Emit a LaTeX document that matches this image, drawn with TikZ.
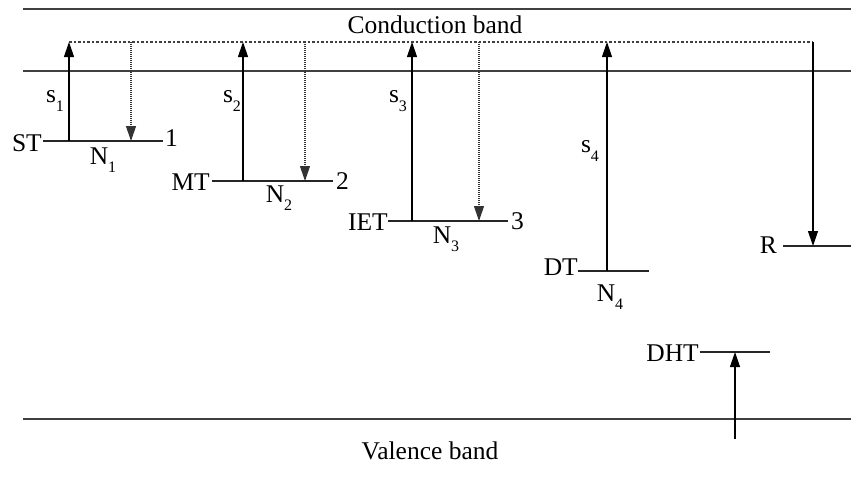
\documentclass[tikz,border=0pt]{standalone}
\usepackage{fontspec}
\setmainfont{Liberation Serif}
\usetikzlibrary{arrows.meta}
\newcommand\lowsub[1]{\raisebox{-0.32em}{\fontsize{16}{16}\selectfont #1}}
\tikzset{
  band/.style={line width=1.4pt, draw=black!75},
  level/.style={line width=1.3pt, draw=black!85},
  up/.style={line width=1.2pt, -{Triangle[length=15pt,width=10pt]}},
  dotdown/.style={line width=1.1pt, draw=black!80, dash pattern=on 1pt off 1pt, -{Triangle[length=15pt,width=10pt]}},
  soliddown/.style={line width=1.2pt, -{Triangle[length=15pt,width=10pt]}},
  dotline/.style={line width=1.1pt, draw=black!75, dash pattern=on 2.5pt off 2pt},
  lab/.style={inner sep=0pt, font=\fontsize{25.5}{30}\selectfont},
}
\begin{document}
\begin{tikzpicture}[x=1pt,y=-1pt]
\useasboundingbox (0,0) rectangle (851,480);
% bands
\coordinate (cbL) at (23,9); \coordinate (cbR) at (851,9);
\coordinate (cb2L) at (23,71); \coordinate (cb2R) at (851,71);
\coordinate (vbL) at (23,419); \coordinate (vbR) at (851,419);
\draw[band] (cbL) -- (cbR);
\draw[band] (cb2L) -- (cb2R);
\draw[band] (vbL) -- (vbR);
\node[lab] (cbt) at (435,25) {Conduction band};
\node[lab] (vbt) at (430,451) {Valence band};
% dotted top line
\coordinate (dL) at (69,42); \coordinate (dR) at (813,42);
\draw[dotline] (dL) -- (dR);
% ST level
\coordinate (st1) at (43,141); \coordinate (st2) at (163,141);
\draw[level] (st1) -- (st2);
\node[lab, anchor=east] (stl) at (42,143) {ST};
\node[lab, anchor=west] (one) at (165,138) {1};
\coordinate (a1b) at (69,141); \coordinate (a1t) at (69,42);
\draw[up] (a1b) -- (a1t);
\coordinate (d1t) at (131,42); \coordinate (d1b) at (131,141);
\draw[dotdown] (d1t) -- (d1b);
\node[lab] (s1) at (55,101) {s\lowsub{1}};
\node[lab] (n1) at (103,160) {N\lowsub{1}};
% MT level
\coordinate (mt1) at (212,181); \coordinate (mt2) at (333,181);
\draw[level] (mt1) -- (mt2);
\node[lab, anchor=east] (mtl) at (210,182) {MT};
\node[lab, anchor=west] (two) at (336,181) {2};
\coordinate (a2b) at (243,181); \coordinate (a2t) at (243,42);
\draw[up] (a2b) -- (a2t);
\coordinate (d2t) at (305,42); \coordinate (d2b) at (305,181);
\draw[dotdown] (d2t) -- (d2b);
\node[lab] (s2) at (232,101) {s\lowsub{2}};
\node[lab] (n2) at (279,198) {N\lowsub{2}};
% IET level
\coordinate (ie1) at (388,221); \coordinate (ie2) at (508,221);
\draw[level] (ie1) -- (ie2);
\node[lab, anchor=east] (iel) at (388,222) {IET};
\node[lab, anchor=west] (three) at (511,221) {3};
\coordinate (a3b) at (412,221); \coordinate (a3t) at (412,42);
\draw[up] (a3b) -- (a3t);
\coordinate (d3t) at (479,42); \coordinate (d3b) at (479,221);
\draw[dotdown] (d3t) -- (d3b);
\node[lab] (s3) at (398,101) {s\lowsub{3}};
\node[lab] (n3) at (446,239) {N\lowsub{3}};
% DT level
\coordinate (dt1) at (578,271); \coordinate (dt2) at (649,271);
\draw[level] (dt1) -- (dt2);
\node[lab, anchor=east] (dtl) at (578,267) {DT};
\coordinate (a4b) at (607,271); \coordinate (a4t) at (607,42);
\draw[up] (a4b) -- (a4t);
\node[lab] (s4) at (590,151) {s\lowsub{4}};
\node[lab] (n4) at (610,297) {N\lowsub{4}};
% R level
\coordinate (r1) at (783,246); \coordinate (r2) at (851,246);
\draw[level] (r1) -- (r2);
\node[lab, anchor=east] (rl) at (777,245) {R};
\coordinate (rb) at (813,246);
\draw[soliddown] (dR) -- (rb);
% DHT level
\coordinate (dh1) at (700,352); \coordinate (dh2) at (770,352);
\draw[level] (dh1) -- (dh2);
\node[lab, anchor=east] (dhl) at (699,353) {DHT};
\coordinate (a5b) at (735,439); \coordinate (a5t) at (735,352);
\draw[up] (a5b) -- (a5t);
\end{tikzpicture}
\end{document}
